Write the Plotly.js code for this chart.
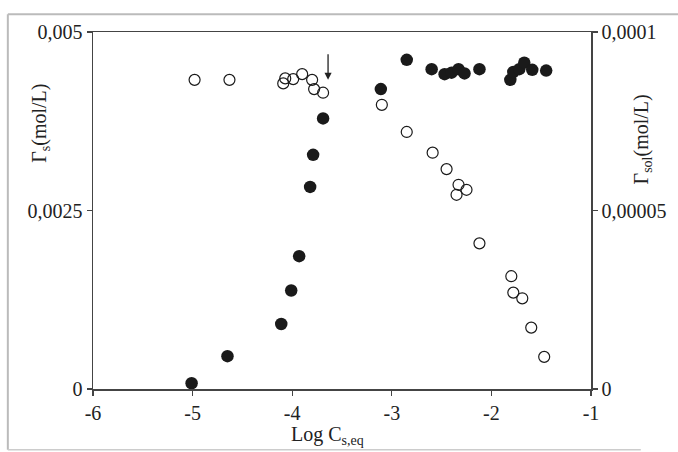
<!DOCTYPE html>
<html>
<head>
<meta charset="utf-8">
<script src="https://cdn.plot.ly/plotly-3.0.1.min.js"></script>
<style>html,body{margin:0;padding:0;background:#fff;}#chart{width:678px;height:452px;}</style>
</head>
<body>
<div id="chart"></div>
<script>
// Filled circles: Γs (left axis, mol/L)
const filledX = [-5.01, -4.65, -4.11, -4.01, -3.93, -3.82, -3.79, -3.69, -3.11, -2.85, -2.60, -2.47, -2.40, -2.33, -2.27, -2.12, -1.81, -1.78, -1.72, -1.67, -1.59, -1.45];
const filledY = [0.00008, 0.00046, 0.00091, 0.00138, 0.00186, 0.00283, 0.00328, 0.00379, 0.00420, 0.00461, 0.00448, 0.00441, 0.00443, 0.00448, 0.00442, 0.00448, 0.00433, 0.00444, 0.00448, 0.00457, 0.00447, 0.00446];
// Open circles: Γsol (right axis, mol/L)
const openX = [-4.98, -4.63, -4.09, -4.07, -3.99, -3.90, -3.80, -3.78, -3.69, -3.10, -2.85, -2.59, -2.45, -2.33, -2.25, -2.35, -2.12, -1.80, -1.78, -1.69, -1.60, -1.47];
const openY = [0.0000866, 0.0000866, 0.0000856, 0.0000870, 0.0000868, 0.0000882, 0.0000866, 0.0000840, 0.0000830, 0.0000796, 0.0000720, 0.0000662, 0.0000616, 0.0000572, 0.0000558, 0.0000544, 0.0000408, 0.0000316, 0.0000270, 0.0000254, 0.0000172, 0.0000090];

const xTickVals = [-6, -5, -4, -3, -2, -1];
const xTickText = ['-6', '-5', '-4', '-3', '-2', '-1'];
const yTickVals = [0, 0.0025, 0.005];
const yTickText = ['0', '0,0025', '0,005'];
const y2TickVals = [0, 0.00005, 0.0001];
const y2TickText = ['0', '0,00005', '0,0001'];
const arrowX = -3.64, arrowY = 0.00433;

const font = {family: "'Liberation Serif', 'Times New Roman', serif", size: 20, color: '#222'};
const titleFont = {family: "'Liberation Serif', 'Times New Roman', serif", size: 20, color: '#222'};

const traces = [
  {x: filledX, y: filledY, type: 'scatter', mode: 'markers', yaxis: 'y', cliponaxis: false,
   marker: {symbol: 'circle', size: 12.5, color: '#1a1a1a', line: {width: 0}}},
  {x: openX, y: openY, type: 'scatter', mode: 'markers', yaxis: 'y2', cliponaxis: false,
   marker: {symbol: 'circle-open', size: 11, color: '#1a1a1a', line: {width: 1.2, color: '#1a1a1a'}}}
];

const axisCommon = {showgrid: false, zeroline: false, showline: true, linecolor: '#444', linewidth: 1.5,
  ticks: 'outside', ticklen: 5, tickwidth: 1.2, tickcolor: '#444', tickfont: font, tickmode: 'array'};

const layout = {
  width: 678, height: 452,
  margin: {l: 93, r: 87, t: 32, b: 63},
  paper_bgcolor: '#fff', plot_bgcolor: '#fff',
  showlegend: false,
  font: font,
  xaxis: Object.assign({}, axisCommon, {range: [-6, -1], tickvals: xTickVals, ticktext: xTickText, mirror: true}),
  yaxis: Object.assign({}, axisCommon, {range: [0, 0.005], tickvals: yTickVals, ticktext: yTickText}),
  yaxis2: Object.assign({}, axisCommon, {range: [0, 0.0001], tickvals: y2TickVals, ticktext: y2TickText, overlaying: 'y', side: 'right'}),
  annotations: [
    {x: arrowX, y: arrowY, xref: 'x', yref: 'y', ax: 0, ay: -27, showarrow: true, arrowhead: 2, arrowsize: 1.1, arrowwidth: 1.3, arrowcolor: '#222', text: ''},
    {xref: 'paper', yref: 'paper', x: 0.47, y: -0.13, xanchor: 'center', yanchor: 'middle', showarrow: false, text: 'Log C<sub>s,eq</sub>', font: titleFont},
    {xref: 'paper', yref: 'paper', x: -0.107, y: 0.745, xanchor: 'center', yanchor: 'middle', showarrow: false, textangle: -90, text: 'Γ<sub>s</sub>(mol/L)', font: titleFont},
    {xref: 'paper', yref: 'paper', x: 1.103, y: 0.7, xanchor: 'center', yanchor: 'middle', showarrow: false, textangle: -90, text: 'Γ<sub>sol</sub>(mol/L)', font: titleFont}
  ],
  shapes: [
    {type: 'line', xref: 'paper', yref: 'paper', x0: -0.171, x1: 1.2, y0: 1.05, y1: 1.05, line: {color: '#bbb', width: 2}, layer: 'below'},
    {type: 'line', xref: 'paper', yref: 'paper', x0: -0.171, x1: -0.171, y0: -0.17, y1: 1.05, line: {color: '#bbb', width: 2}, layer: 'below'},
    {type: 'line', xref: 'paper', yref: 'paper', x0: -0.171, x1: 1.1, y0: -0.17, y1: -0.17, line: {color: '#ccc', width: 1.5}, layer: 'below'}
  ]
};

Plotly.newPlot('chart', traces, layout, {displayModeBar: false, staticPlot: true});
</script>
</body>
</html>
